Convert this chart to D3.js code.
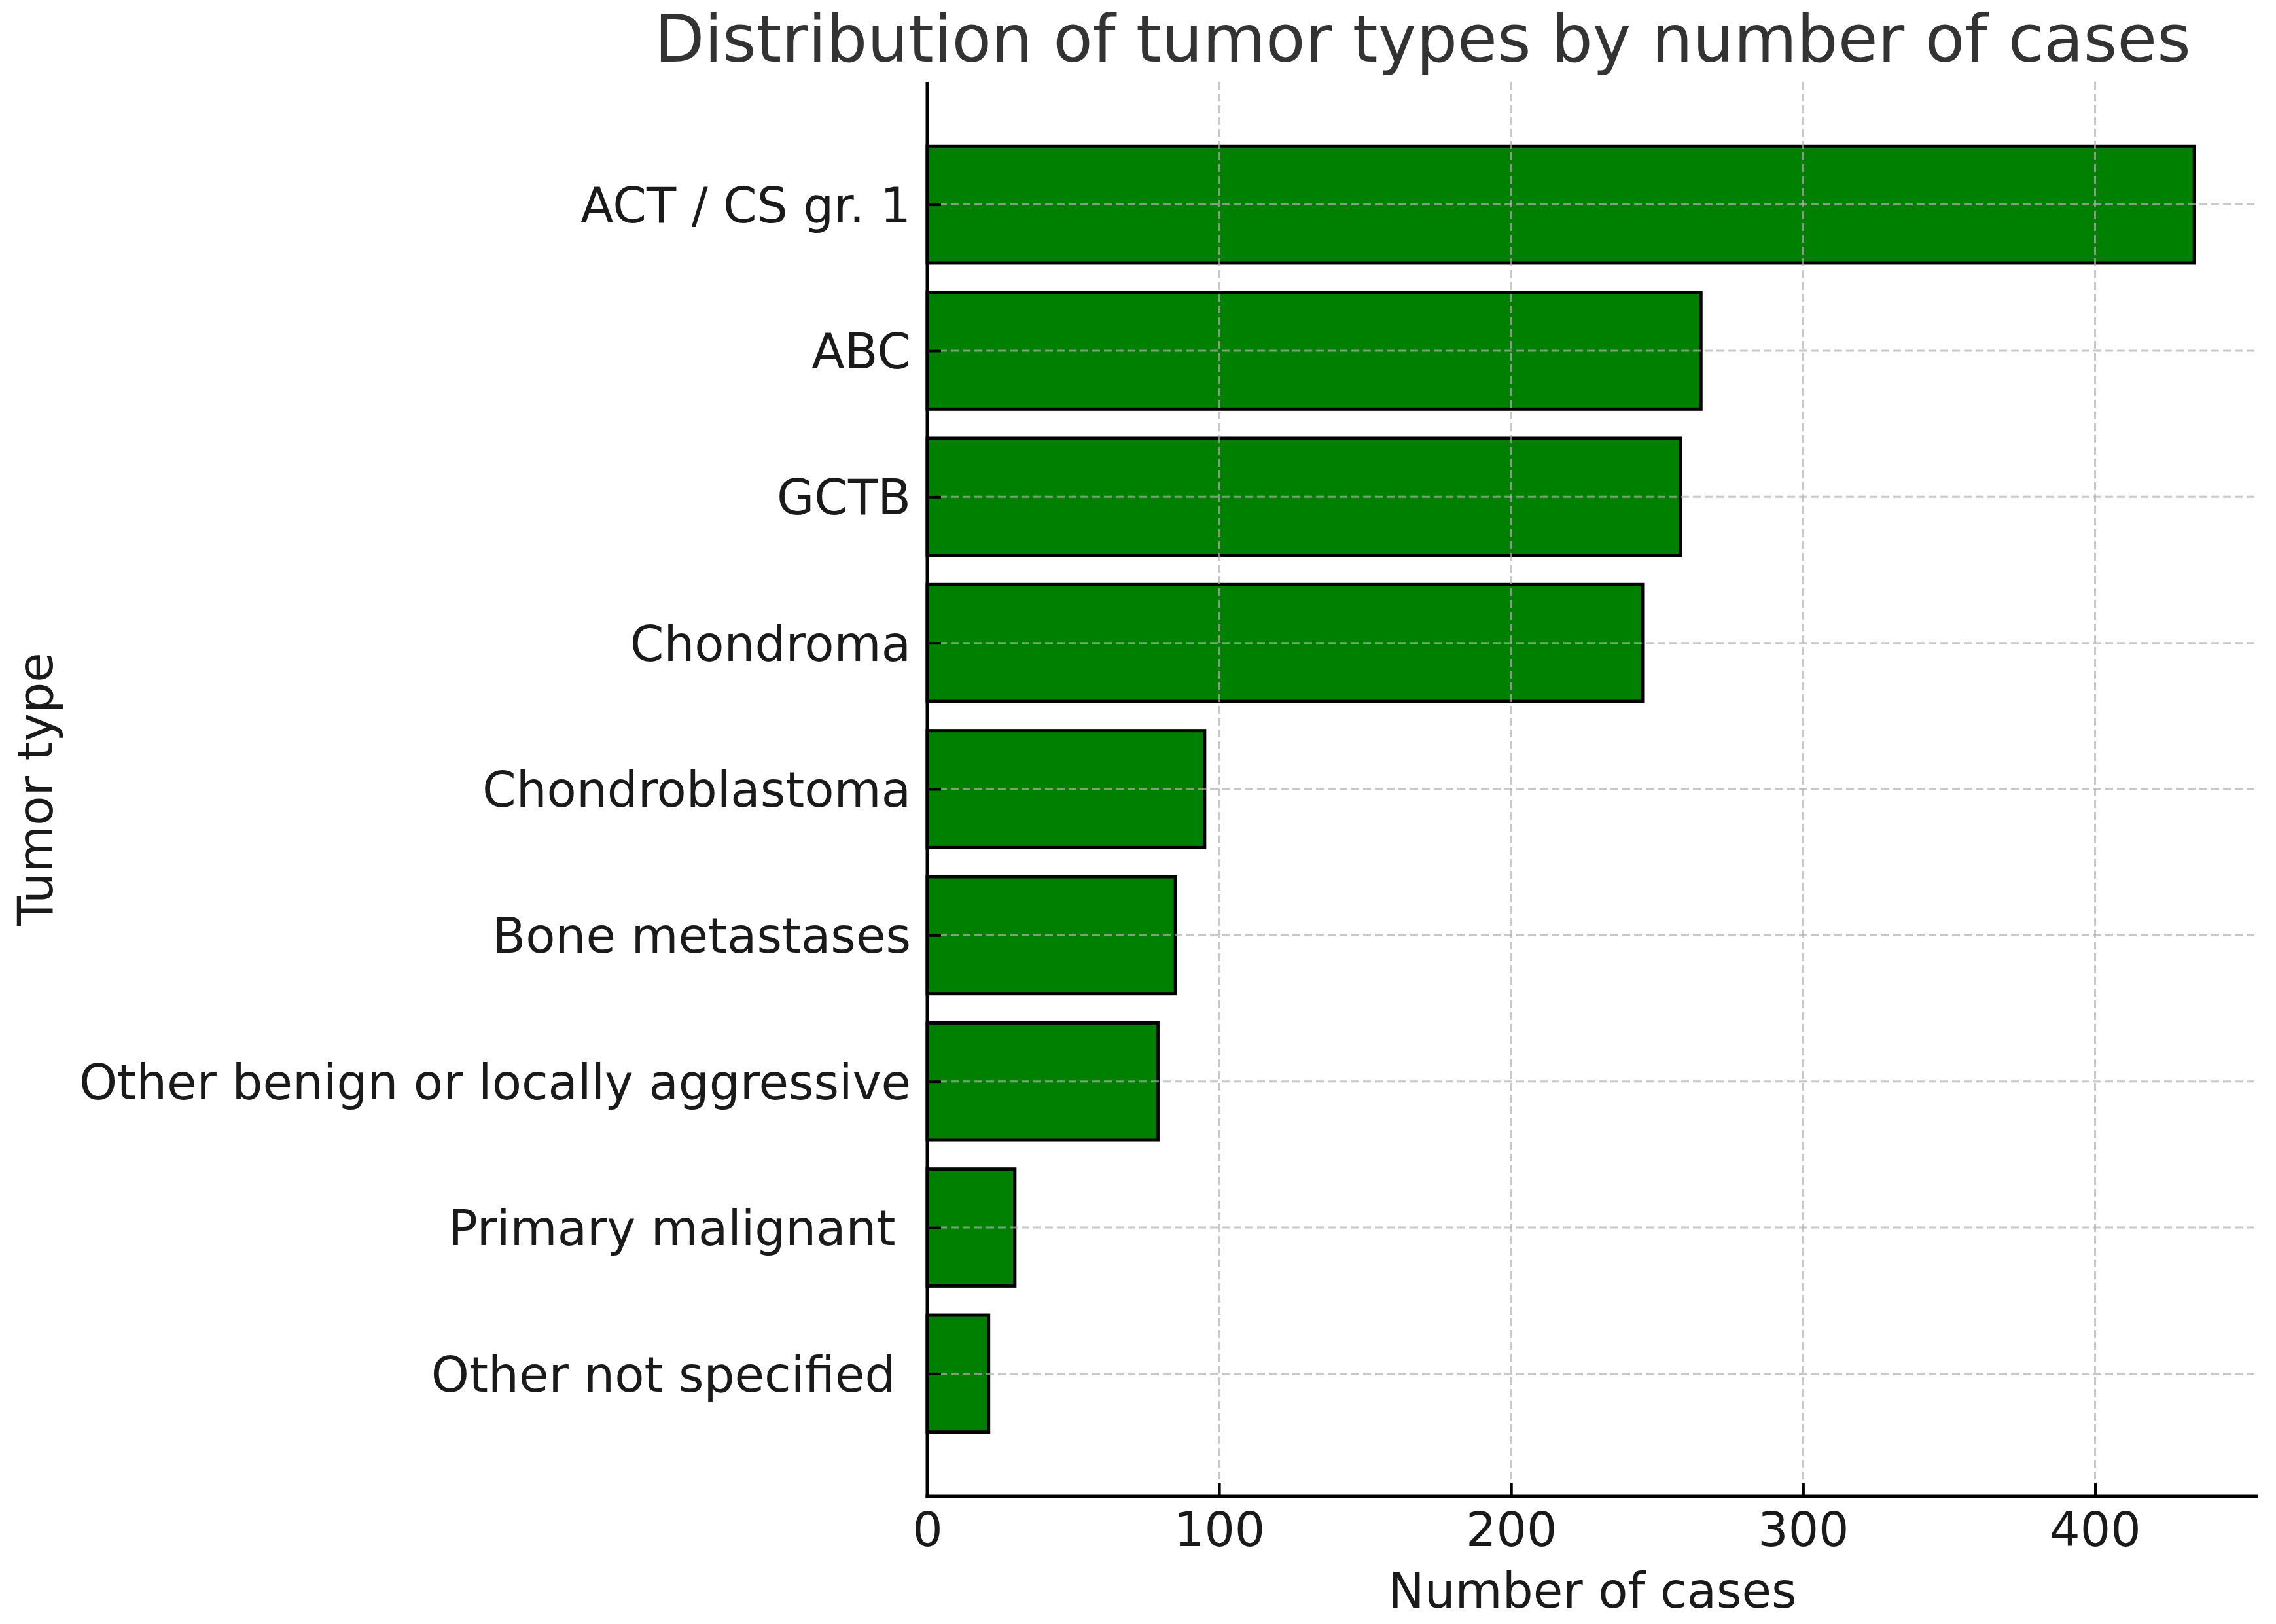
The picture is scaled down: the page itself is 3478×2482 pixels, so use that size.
<!DOCTYPE html>
<html>
<head>
<meta charset="utf-8">
<script src="https://cdn.jsdelivr.net/npm/d3@7"></script>
<style>
  html, body { margin: 0; padding: 0; background: #ffffff; }
  svg { display: block; }
  text { font-family: "DejaVu Sans", sans-serif; white-space: pre; }
</style>
</head>
<body>
<svg id="chart" width="3478" height="2482"></svg>
<script>
const categories = [
  "ACT / CS gr. 1",
  "ABC",
  "GCTB",
  "Chondroma",
  "Chondroblastoma",
  "Bone metastases",
  "Other benign or locally aggressive",
  "Primary malignant ",
  "Other not specified "
];
const values = [434, 265, 258, 245, 95, 85, 79, 30, 21];
const xTicks = [0, 100, 200, 300, 400];
const titleText = "Distribution of tumor types by number of cases";
const xLabel = "Number of cases";
const yLabel = "Tumor type";

(function () {
const W = 3478, H = 2482;
const mLeft = 1417, mRight = 3450, mTop = 125, mBottom = 2287;

const svg = d3.select("#chart");
svg.append("rect").attr("width", W).attr("height", H).attr("fill", "#ffffff");

const x = d3.scaleLinear().domain([0, d3.max(values) * 1.05]).range([mLeft, mRight]);
const n = categories.length;
const pad = 0.4 + 0.05 * (n - 1 + 0.8);
const y = d3.scaleLinear().domain([-pad, n - 1 + pad]).range([mTop, mBottom]);
const barH = y(0.4) - y(-0.4);
const idx = d3.range(n);

// bars
svg.append("g").selectAll("rect").data(idx).join("rect")
  .attr("x", x(0))
  .attr("y", i => y(i) - barH / 2)
  .attr("width", i => x(values[i]) - x(0))
  .attr("height", barH)
  .attr("fill", "#008000")
  .attr("stroke", "#000000")
  .attr("stroke-width", 5);

// grid (drawn over bars)
const grid = svg.append("g").attr("stroke", "#b0b0b0").attr("stroke-opacity", 0.7)
  .attr("stroke-width", 3).attr("stroke-dasharray", "12,6");
grid.selectAll("line.v").data(xTicks).join("line").attr("class", "v")
  .attr("x1", d => x(d)).attr("x2", d => x(d)).attr("y1", mTop).attr("y2", mBottom);
grid.selectAll("line.h").data(idx).join("line").attr("class", "h")
  .attr("x1", mLeft).attr("x2", mRight).attr("y1", i => y(i)).attr("y2", i => y(i));

// x axis
const xAxis = svg.append("g").attr("transform", `translate(0,${mBottom})`)
  .call(d3.axisBottom(x).tickValues(xTicks).tickFormat(d3.format("d"))
    .tickSizeInner(-21).tickSizeOuter(0).tickPadding(24));
xAxis.select(".domain").remove();
xAxis.selectAll(".tick line").attr("stroke", "#000").attr("stroke-width", 4);
xAxis.selectAll(".tick text").attr("font-size", 73).attr("fill", "#1a1a1a")
  .attr("font-family", "DejaVu Sans");

// y axis
const yAxis = svg.append("g").attr("transform", `translate(${mLeft},0)`)
  .call(d3.axisLeft(y).tickValues(idx).tickFormat(i => categories[i])
    .tickSizeInner(-21).tickSizeOuter(0).tickPadding(25));
yAxis.select(".domain").remove();
yAxis.selectAll(".tick line").attr("stroke", "#000").attr("stroke-width", 4);
yAxis.selectAll(".tick text").attr("font-size", 74).attr("fill", "#1a1a1a")
  .attr("dy", "0.36em").attr("font-family", "DejaVu Sans");

// spines
svg.append("line").attr("x1", mLeft).attr("x2", mLeft).attr("y1", mTop).attr("y2", mBottom + 2.5)
  .attr("stroke", "#000").attr("stroke-width", 5);
svg.append("line").attr("x1", mLeft - 2.5).attr("x2", mRight).attr("y1", mBottom).attr("y2", mBottom)
  .attr("stroke", "#000").attr("stroke-width", 5);

// title and labels
svg.append("text").attr("x", 2174).attr("y", 94).attr("text-anchor", "middle")
  .attr("font-size", 99).attr("fill", "#333333").text(titleText);
svg.append("text").attr("x", (mLeft + mRight) / 2).attr("y", 2457).attr("text-anchor", "middle")
  .attr("font-size", 74).attr("fill", "#1a1a1a").text(xLabel);
svg.append("text").attr("transform", `translate(80,${(mTop + mBottom) / 2}) rotate(-90)`)
  .attr("text-anchor", "middle").attr("font-size", 74).attr("fill", "#1a1a1a").text(yLabel);
})();
</script>
</body>
</html>
